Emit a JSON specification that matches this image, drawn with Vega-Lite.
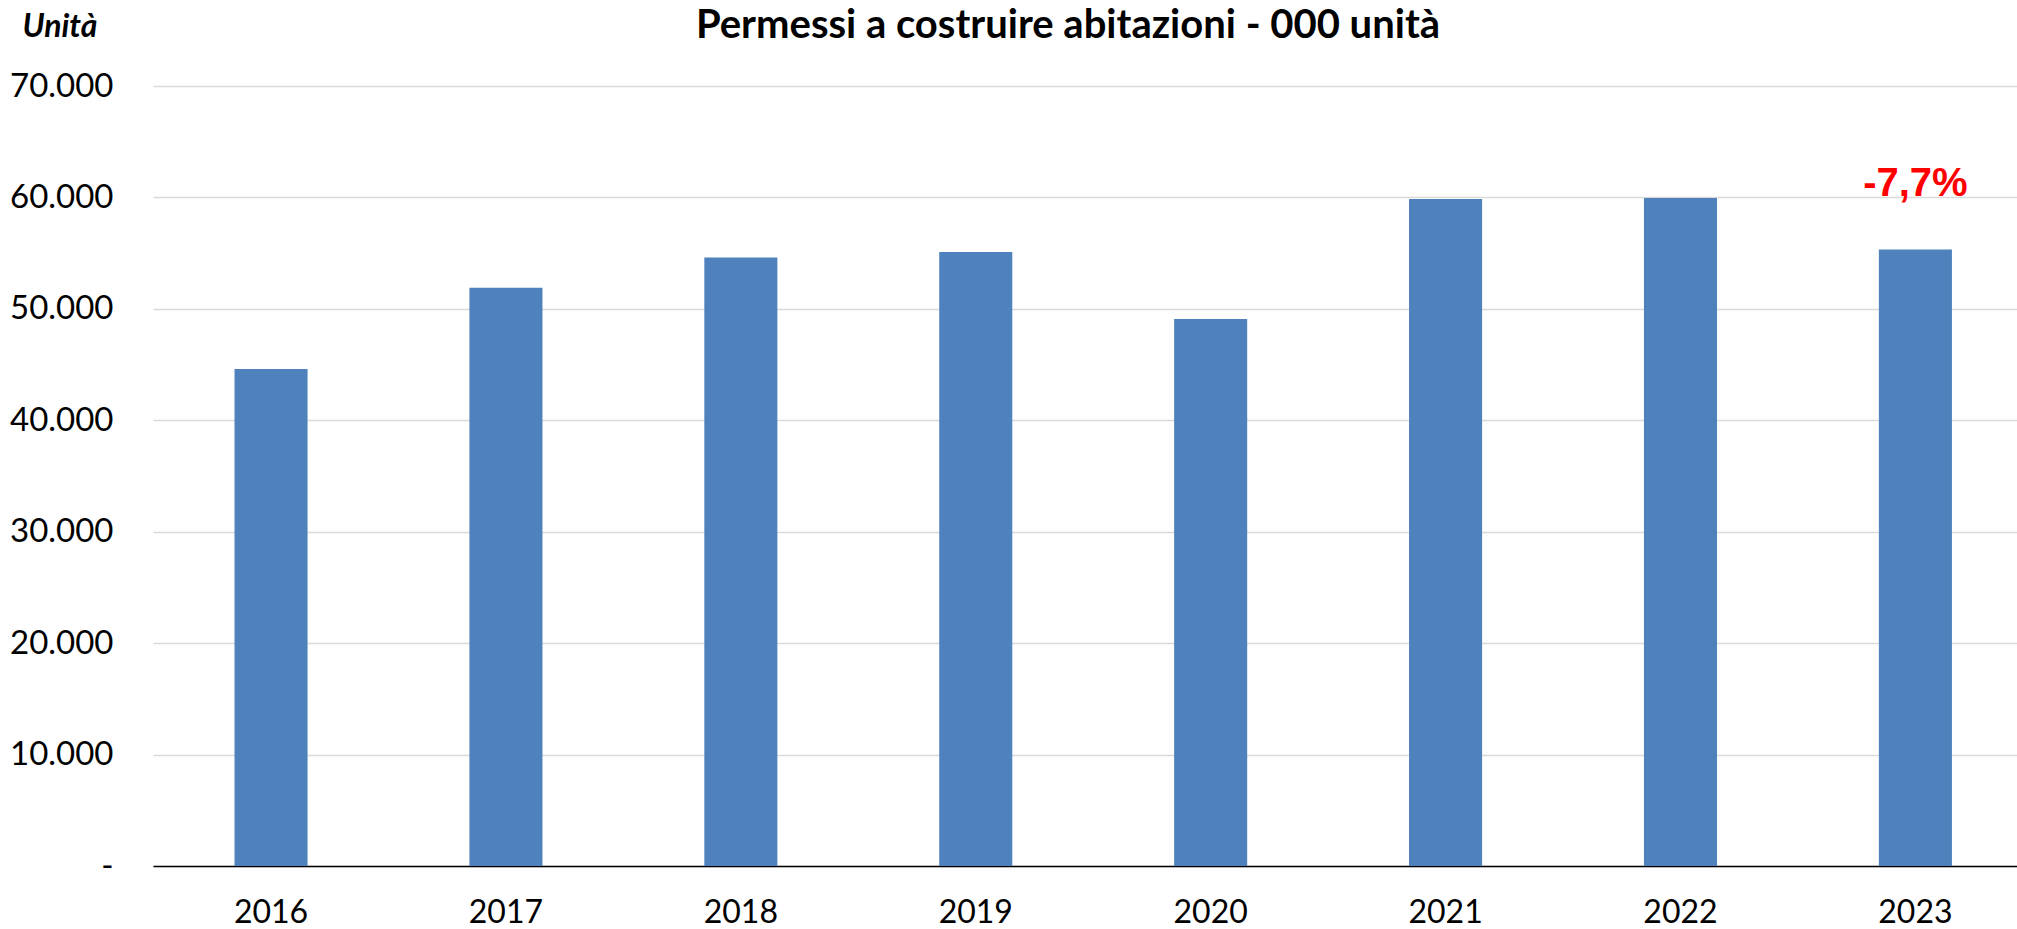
{
  "$schema": "https://vega.github.io/schema/vega-lite/v6.json",
  "autosize": "none",
  "width": 1864,
  "height": 780,
  "padding": {"left": 153, "top": 86, "right": 0, "bottom": 63},
  "background": "white",
  "title": {
    "text": "Permessi a costruire abitazioni - 000 unità",
    "font": "Lato",
    "fontSize": 40,
    "fontWeight": "bold",
    "color": "black",
    "anchor": "middle",
    "frame": "group",
    "baseline": "middle",
    "offset": 0,
    "dy": 56,
    "dx": -17
  },
  "data": {
    "values": [
      {"year": "2016", "value": 44600, "label": ""},
      {"year": "2017", "value": 51900, "label": ""},
      {"year": "2018", "value": 54600, "label": ""},
      {"year": "2019", "value": 55100, "label": ""},
      {"year": "2020", "value": 49100, "label": ""},
      {"year": "2021", "value": 59850, "label": ""},
      {"year": "2022", "value": 59940, "label": ""},
      {"year": "2023", "value": 55330, "label": "-7,7%"}
    ]
  },
  "encoding": {
    "x": {
      "field": "year",
      "type": "nominal",
      "sort": null,
      "scale": {"paddingInner": 0.689, "paddingOuter": 0.312, "align": 0.556},
      "axis": {
        "title": null,
        "labelAngle": 0,
        "labelFont": "Lato",
        "labelFontSize": 32,
        "labelColor": "black",
        "labelBaseline": "middle",
        "labelPadding": 46,
        "ticks": false,
        "domainColor": "black",
        "domainWidth": 1.5,
        "grid": false
      }
    },
    "y": {
      "field": "value",
      "type": "quantitative",
      "scale": {"domain": [0, 70000], "nice": false},
      "axis": {
        "title": "Unità",
        "titleFont": "Lato",
        "titleFontSize": 32,
        "titleFontWeight": "bold",
        "titleFontStyle": "italic",
        "titleColor": "black",
        "titleAngle": 0,
        "titleAlign": "left",
        "titleBaseline": "middle",
        "titleX": -131,
        "titleY": -60,
        "values": [0, 10000, 20000, 30000, 40000, 50000, 60000, 70000],
        "labelExpr": "datum.value == 0 ? '-' : replace(format(datum.value, ','), ',', '.')",
        "labelFont": "Lato",
        "labelFontSize": 33,
        "labelColor": "black",
        "labelPadding": 40,
        "ticks": false,
        "domain": false,
        "grid": true,
        "gridColor": "#d9d9d9",
        "gridWidth": 1.5
      }
    }
  },
  "layer": [
    {"mark": {"type": "bar", "color": "#4F81BD"}},
    {
      "mark": {
        "type": "text",
        "color": "#FF0000",
        "font": "Liberation Sans",
        "fontSize": 40,
        "fontWeight": "bold",
        "baseline": "middle",
        "dy": -65
      },
      "encoding": {"text": {"field": "label"}}
    }
  ],
  "config": {"view": {"stroke": null}}
}
